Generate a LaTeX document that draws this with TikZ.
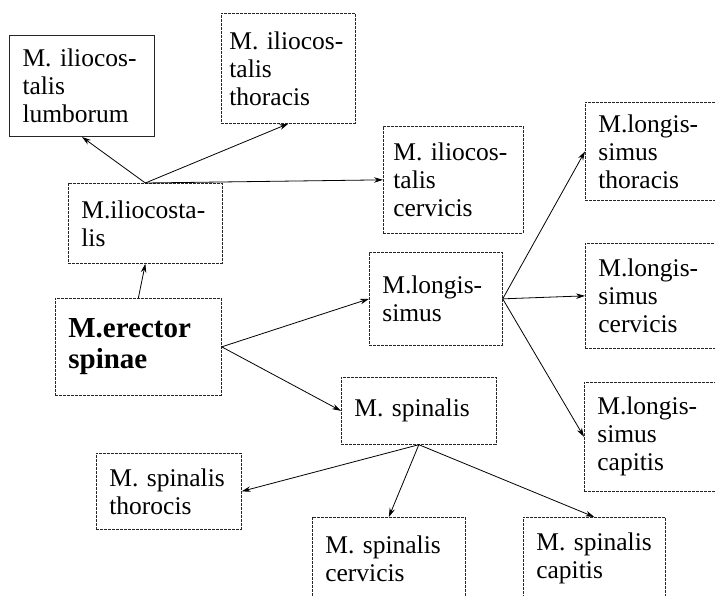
\documentclass[tikz,border=0pt]{standalone}
\usepackage{fontspec}
\setmainfont{Liberation Serif}
\newfontfamily\tms{Liberation Serif}
\usetikzlibrary{arrows.meta}
\begin{document}
\begin{tikzpicture}[x=1pt,y=-1pt,
  every node/.style={font=\tms\fontsize{25.5}{28}\selectfont},
  bx/.style={draw=black!85,dash pattern=on 3pt off 1pt,line width=0.7pt,anchor=north west,align=left,inner xsep=13pt,inner ysep=3pt},
  ar/.style={-{Stealth[length=9pt,width=5.5pt]},line width=0.8pt}]
 \useasboundingbox (0,0) rectangle (715,596);
 \clip (0,0) rectangle (715,596);
 \node[bx,solid,line width=1pt,text width=119pt,minimum height=101pt] (ilum) at (9,35) {M.~iliocos-\\talis\\lumborum};
 \node[bx,inner xsep=8pt,text width=118pt,minimum height=110pt] (ithor) at (221,13) {M.~iliocos-\\talis\\thoracis};
 \node[bx,text width=128pt,minimum height=80pt] (ilio) at (68,183) {M.iliocosta-\\lis};
 \node[bx,inner xsep=10pt,text width=120pt,minimum height=107pt] (icerv) at (383,126) {M.~iliocos-\\talis\\cervicis};
 \node[bx,text width=140pt,minimum height=97pt,font=\tms\bfseries\fontsize{29}{31}\selectfont] (erector) at (55,298) {M.erector\\spinae};
 \node[bx,text width=107pt,minimum height=93pt] (longis) at (369,252) {M.longis-\\simus};
 \node[bx,text width=174pt,minimum height=98pt] (lthor) at (585,102) {M.longis-\\simus\\thoracis};
 \node[bx,text width=174pt,minimum height=105pt] (lcerv) at (585,243) {M.longis-\\simus\\cervicis};
 \node[bx,text width=174pt,minimum height=109pt] (lcap) at (584,382) {M.longis-\\simus\\capitis};
 \node[bx,text width=129pt,minimum height=67pt] (spin) at (341,377) {M.~spinalis};
 \node[bx,text width=119pt,minimum height=76pt] (sthor) at (96,453) {M.~spinalis\\thorocis};
 \node[bx,text width=127pt,minimum height=82pt] (scerv) at (312,517) {M.~spinalis\\cervicis};
 \node[bx,text width=116pt,minimum height=82pt] (scap) at (523,517) {M.~spinalis\\capitis};
 \foreach \a/\b in {ilio.north/ilum.south,ilio.north/ithor.south,ilio.north/icerv.west,erector.north/ilio.south,
   erector.east/longis.west,erector.east/spin.west,longis.east/lthor.west,longis.east/lcerv.west,longis.east/lcap.west,
   spin.south/sthor.east,spin.south/scerv.north,spin.south/scap.north}
   \draw[ar] (\a)--(\b);
\end{tikzpicture}
\end{document}
